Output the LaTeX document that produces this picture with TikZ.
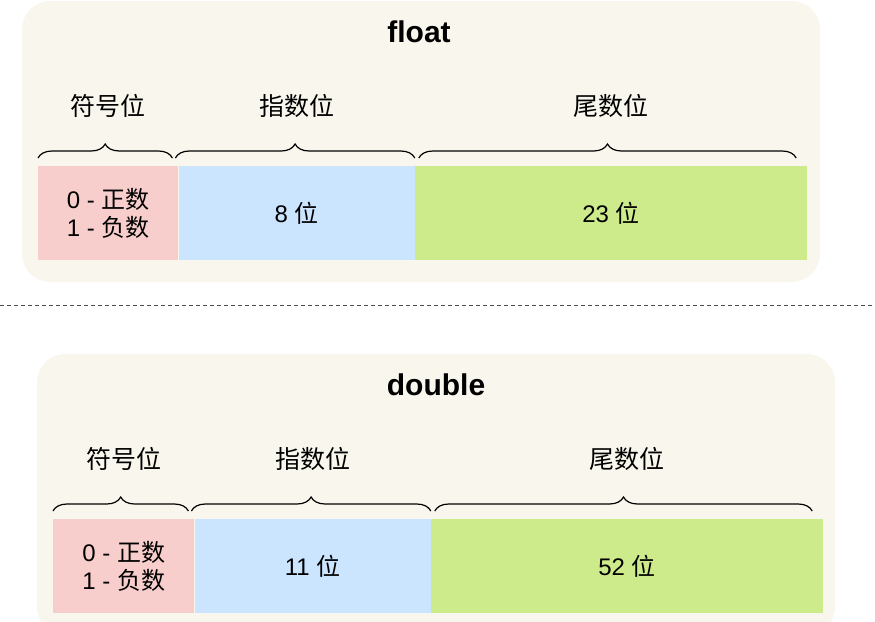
\documentclass[tikz,border=0pt]{standalone}
\usepackage{fontspec}
\setmainfont{Liberation Sans}
\newfontfamily\cjk{Noto Sans CJK SC}
\usetikzlibrary{positioning,decorations.pathreplacing}
\definecolor{panelbg}{HTML}{F9F7ED}
\definecolor{signred}{HTML}{F8CECC}
\definecolor{expblue}{HTML}{CCE5FF}
\definecolor{mantgreen}{HTML}{CDEB8B}
\tikzset{
  panel/.style={fill=panelbg, rounded corners=28pt},
  bits/.style={anchor=north west, inner sep=0pt, minimum height=94pt, align=center,
    font=\fontsize{24}{28}\selectfont},
  curly/.style={decorate, decoration={brace, amplitude=14pt}, line width=1.2pt},
  part/.style={inner sep=0pt, font=\fontsize{25}{28}\selectfont\cjk},
  title/.style={font=\fontsize{30}{34}\selectfont\bfseries},
}
\begin{document}
\begin{tikzpicture}[x=1pt, y=-1pt]
  \useasboundingbox (0,0) rectangle (875,621);
  \clip (0,0) rectangle (875,621);

  % float
  \fill[panel] (22,1) rectangle (820,282);
  \node[title] (ftitle) at (419,32) {float};
  \node[bits, fill=signred, minimum width=140pt] (fsign) at (38,166) {0 - {\cjk 正数}\\1 - {\cjk 负数}};
  \node[bits, fill=expblue, minimum width=236pt, right=0pt of fsign] (fexp) {8 {\cjk 位}};
  \node[bits, fill=mantgreen, minimum width=392pt, right=0pt of fexp] (fmant) {23 {\cjk 位}};
  \draw[curly] ([yshift=8pt]fsign.north west) -- ([xshift=-6pt,yshift=8pt]fsign.north east);
  \draw[curly] ([xshift=-3pt,yshift=8pt]fexp.north west) -- ([yshift=8pt]fexp.north east);
  \draw[curly] ([xshift=4pt,yshift=8pt]fmant.north west) -- ([xshift=-11pt,yshift=8pt]fmant.north east);
  \node[part, above=48pt of fsign] (fsignlab) {符号位};
  \node[part, above=48pt of fexp] (fexplab) {指数位};
  \node[part, above=48pt of fmant] (fmantlab) {尾数位};

  \coordinate (sepl) at (0,305);
  \coordinate (sepr) at (875,305);
  \draw[dashed, dash pattern=on 4pt off 3pt, line width=1pt, black!70] (sepl) -- (sepr);

  % double
  \begin{scope}[shift={(15,353)}]
    \fill[panel] (22,1) rectangle (820,282);
    \node[title] (dtitle) at (421,32) {double};
    \node[bits, fill=signred, minimum width=141pt] (dsign) at (38,166) {0 - {\cjk 正数}\\1 - {\cjk 负数}};
    \node[bits, fill=expblue, minimum width=236pt, right=0pt of dsign] (dexp) {11 {\cjk 位}};
    \node[bits, fill=mantgreen, minimum width=392pt, right=0pt of dexp] (dmant) {52 {\cjk 位}};
    \draw[curly] ([yshift=8pt]dsign.north west) -- ([xshift=-6pt,yshift=8pt]dsign.north east);
    \draw[curly] ([xshift=-3pt,yshift=8pt]dexp.north west) -- ([yshift=8pt]dexp.north east);
    \draw[curly] ([xshift=4pt,yshift=8pt]dmant.north west) -- ([xshift=-11pt,yshift=8pt]dmant.north east);
    \node[part, above=48pt of dsign] (dsignlab) {符号位};
    \node[part, above=48pt of dexp] (dexplab) {指数位};
    \node[part, above=48pt of dmant] (dmantlab) {尾数位};
  \end{scope}
\end{tikzpicture}
\end{document}
